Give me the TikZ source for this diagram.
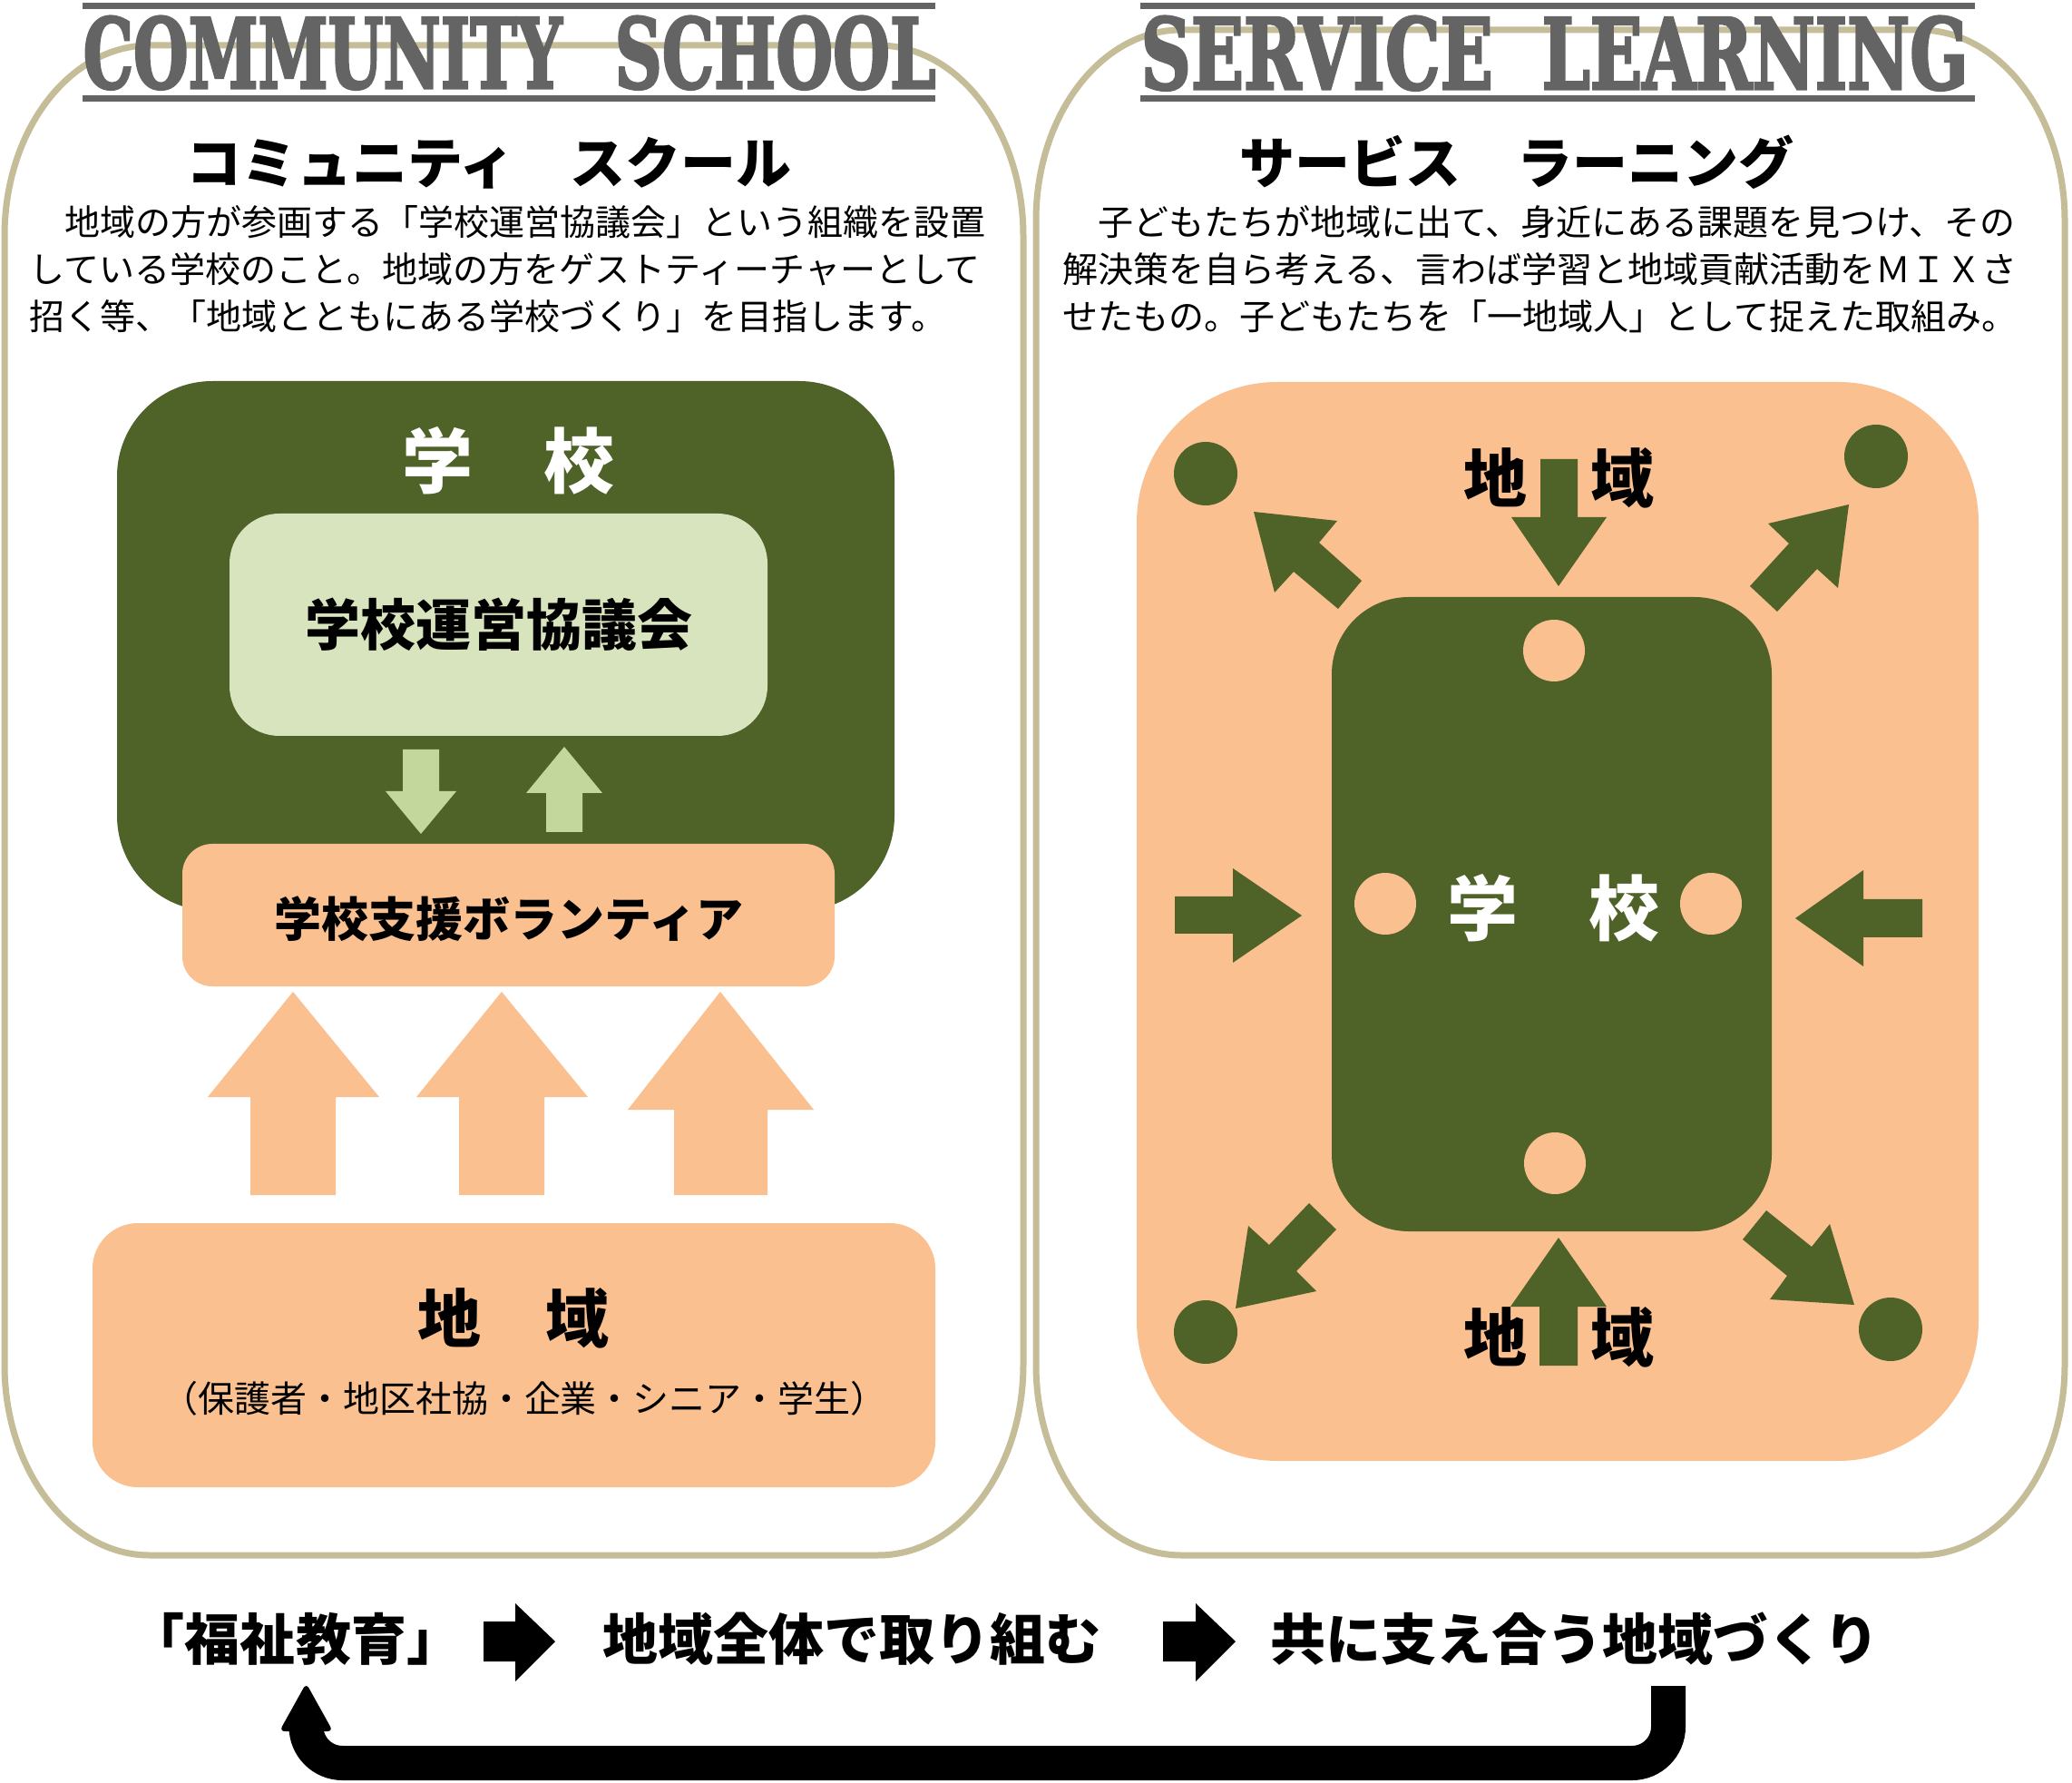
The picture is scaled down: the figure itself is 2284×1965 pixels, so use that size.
\documentclass[tikz,border=0pt]{standalone}
\usepackage{fontspec}
\usepackage{graphicx}
\newfontfamily\jp{Noto Sans CJK JP}
\newfontfamily\stf[BoldFeatures={FakeBold=3}]{DejaVu Serif}
\definecolor{framec}{HTML}{C4BD97}
\definecolor{dgreen}{HTML}{4F6228}
\definecolor{lgreen}{HTML}{D7E4BD}
\definecolor{mgreen}{HTML}{C3D69B}
\definecolor{peach}{HTML}{FAC090}
\definecolor{stgray}{HTML}{646464}
\newcommand\fsz[1]{\fontsize{#1}{#1}\selectfont}
\newcommand\panelframe[6]{%
  \draw[frameline] (#1,#2+#6) arc[start angle=180,end angle=270,x radius=#5,y radius=#6]
    -- (#3-#5,#2) arc[start angle=270,end angle=360,x radius=#5,y radius=#6]
    -- (#3,#4-#6) arc[start angle=0,end angle=90,x radius=#5,y radius=#6]
    -- (#1+#5,#4) arc[start angle=90,end angle=180,x radius=#5,y radius=#6] -- cycle;}
\begin{document}
\begin{tikzpicture}[x=0.1mm,y=-0.1mm,
  frameline/.style={draw=framec, line width=0.7mm},
  body/.style={anchor=base west, inner sep=0pt, font=\jp\fsz{11.1pt}},
  heading/.style={anchor=base, inner sep=0pt, font=\jp\bfseries\fsz{17.36pt}},
  bigw/.style={anchor=base, inner sep=0pt, text=white, font=\jp\bfseries\fsz{22.19pt}},
  chiiki/.style={anchor=base, inner sep=0pt, font=\jp\bfseries\fsz{19.92pt}},
  boxlabel/.style={anchor=base, inner sep=0pt, font=\jp\bfseries\fsz{17.36pt}},
  vollabel/.style={anchor=base, inner sep=0pt, font=\jp\bfseries\fsz{14.8pt}},
  sublabel/.style={anchor=base, inner sep=0pt, font=\jp\fsz{11.38pt}},
  flow/.style={anchor=base, inner sep=0pt, font=\jp\bfseries\fsz{17.36pt}},
  stencil/.style={anchor=base west, inner sep=0pt, text=stgray}
]
\useasboundingbox (0,0) rectangle (2284,1965);
\fill[white] (0,0) rectangle (2284,1965);

% ---------- panel frames ----------
\panelframe{5}{50}{1128}{1714}{160}{210}
\panelframe{1142}{33}{2276}{1714}{160}{210}

% ---------- banners ----------
\fill[stgray] (91,3) rectangle (1031,10);
\fill[stgray] (91,105) rectangle (1031,112);
\fill[stgray] (1257,3) rectangle (2177,10);
\fill[stgray] (1257,105) rectangle (2177,112);
\node[stencil] (cs1) at (91,97) {\resizebox{52.8mm}{7.9mm}{\stf\bfseries COMMUNITY}};
\node[stencil] (cs2) at (677,97) {\resizebox{35.4mm}{7.9mm}{\stf\bfseries SCHOOL}};
\node[stencil] (sl1) at (1257,98) {\resizebox{38.8mm}{8mm}{\stf\bfseries SERVICE}};
\node[stencil] (sl2) at (1699,98) {\resizebox{47mm}{8mm}{\stf\bfseries LEARNING}};

% ---------- headings and descriptions ----------
\node[heading] (lhead) at (539,203) {コミュニティ　スクール};
\node[heading] (rhead) at (1672,203) {サービス　ラーニング};

\node[body] (l1) at (32,260) {　地域の方が参画する「学校運営協議会」という組織を設置};
\node[body] (l2) at (32,312) {している学校のこと。地域の方をゲストティーチャーとして};
\node[body] (l3) at (32,364) {招く等、「地域とともにある学校づくり」を目指します。};

\node[body] (r1) at (1171,260) {　子どもたちが地域に出て、身近にある課題を見つけ、その};
\node[body] (r2) at (1171,312) {解決策を自ら考える、言わば学習と地域貢献活動をＭＩＸさ};
\node[body] (r3) at (1171,364) {せたもの。子どもたちを「一地域人」として捉えた取組み。};

% ---------- left diagram ----------
\fill[dgreen, rounded corners=10.5mm] (129,420) rectangle (986,1004);
\node[bigw] (lschool) at (560,538) {学　校};
\fill[lgreen, rounded corners=5.5mm] (253,566) rectangle (846,811);
\node[boxlabel] (council) at (550,712) {学校運営協議会};
\fill[mgreen] (444,826) -- (484,826) -- (484,872) -- (503,872) -- (464,919) -- (425,872) -- (444,872) -- cycle;
\fill[mgreen] (602,917) -- (642,917) -- (642,874) -- (664,874) -- (622,823) -- (580,874) -- (602,874) -- cycle;
\fill[peach, rounded corners=3.3mm] (201,930) rectangle (920,1087);
\node[vollabel] (vol) at (561,1033) {学校支援ボランティア};

\fill[peach] (276,1317) -- (370,1317) -- (370,1209) -- (418,1209) -- (323,1093) -- (229,1209) -- (276,1209) -- cycle;
\fill[peach] (506,1317) -- (600,1317) -- (600,1209) -- (648,1209) -- (553,1093) -- (459,1209) -- (506,1209) -- cycle;
\fill[peach] (743,1317) -- (846,1317) -- (846,1223) -- (897,1223) -- (794,1093) -- (692,1223) -- (743,1223) -- cycle;

\fill[peach, rounded corners=5mm] (102,1348) rectangle (1031,1639);
\node[chiiki] (lcomm) at (566,1479) {地　域};
\node[sublabel] (members) at (578,1556) {（保護者・地区社協・企業・シニア・学生）};

% ---------- right diagram ----------
\fill[peach, rounded corners=15.5mm] (1253,421) rectangle (2181,1610);
\fill[dgreen, rounded corners=8.5mm] (1468,658) rectangle (1953,1357);
\fill[peach] (1713,717) circle[radius=34];
\fill[peach] (1527,996) circle[radius=34];
\fill[peach] (1886,996) circle[radius=34];
\fill[peach] (1714,1282) circle[radius=34];
\node[bigw] (rschool) at (1712,1031) {学　校};

\fill[dgreen] (1329,522) circle[radius=35];
\fill[dgreen] (2068,503) circle[radius=35];
\fill[dgreen] (1329,1468) circle[radius=35];
\fill[dgreen] (2084,1465) circle[radius=35];

\node[chiiki] (rtop) at (1718,554) {地　域};
\node[chiiki] (rbot) at (1718,1500) {地　域};

\fill[dgreen] (1698,506) -- (1739,506) -- (1739,570) -- (1771,570) -- (1718,646) -- (1666,570) -- (1698,570) -- cycle;
\fill[dgreen] (1697,1505) -- (1739,1505) -- (1739,1440) -- (1771,1440) -- (1718,1364) -- (1665,1440) -- (1697,1440) -- cycle;
\fill[dgreen] (1295,988) -- (1359,988) -- (1359,957) -- (1435,1009) -- (1359,1061) -- (1359,1029) -- (1295,1029) -- cycle;
\fill[dgreen] (2119,991) -- (2054,991) -- (2054,959) -- (1979,1012) -- (2054,1065) -- (2054,1033) -- (2119,1033) -- cycle;
\fill[dgreen] (1382,564) -- (1474,574) -- (1454,598) -- (1501,640) -- (1475,671) -- (1426,630) -- (1405,653) -- cycle;
\fill[dgreen] (2038,556) -- (2026,648) -- (2003,627) -- (1959,674) -- (1929,646) -- (1972,599) -- (1949,577) -- cycle;
\fill[dgreen] (1362,1442) -- (1376,1351) -- (1399,1372) -- (1443,1326) -- (1473,1355) -- (1429,1401) -- (1451,1423) -- cycle;
\fill[dgreen] (2044,1438) -- (2017,1349) -- (1997,1374) -- (1947,1334) -- (1921,1366) -- (1970,1406) -- (1951,1432) -- cycle;

% ---------- bottom flow ----------
\node[flow] (f1) at (326,1829) {「福祉教育」};
\node[flow] (f2) at (939,1829) {地域全体で取り組む};
\node[flow] (f3) at (1736,1829) {共に支え合う地域づくり};
\fill[black] (533,1787) -- (568,1787) -- (568,1767) -- (612,1809) -- (568,1853) -- (568,1831) -- (533,1831) -- cycle;
\fill[black] (1282,1787) -- (1318,1787) -- (1318,1767) -- (1362,1809) -- (1318,1853) -- (1318,1831) -- (1282,1831) -- cycle;
\coordinate (retstart) at (1839,1858);
\coordinate (retend) at (337.5,1902);
\draw[black, line width=3.8mm, rounded corners=4mm] (retstart) -- (1839,1943) -- (337.5,1943) -- (retend);
\fill[black, rounded corners=0.6mm] (337.5,1855) -- (367,1908) -- (308,1908) -- cycle;
\end{tikzpicture}
\end{document}
